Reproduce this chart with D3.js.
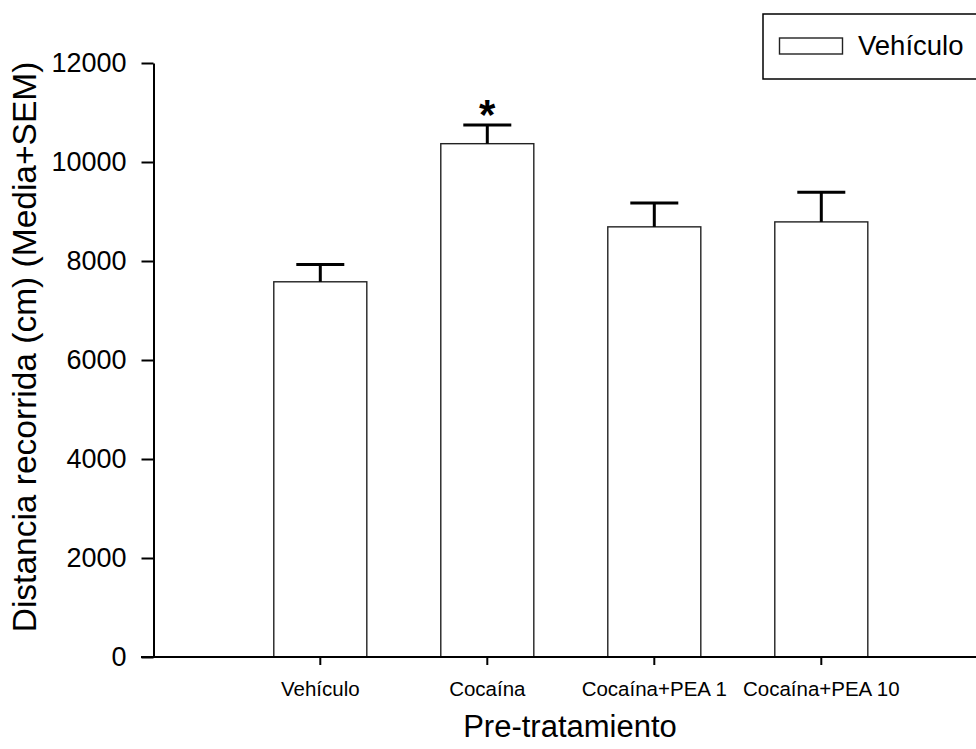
<!DOCTYPE html>
<html>
<head>
<meta charset="utf-8">
<script src="https://cdn.jsdelivr.net/npm/d3@7"></script>
<style>
  html, body { margin: 0; padding: 0; background: #fff; }
  svg { display: block; font-family: "Liberation Sans", Arial, sans-serif; }
</style>
</head>
<body>
<svg id="chart" width="976" height="749"></svg>
<script>
// Distance travelled per pre-treatment group (mean + SEM)
const categories = ["Vehículo", "Cocaína", "Cocaína+PEA 1", "Cocaína+PEA 10"];
const means = [7580, 10370, 8690, 8790];
const sems = [350, 380, 480, 600];
const significant = [false, true, false, false];
const yTicks = [0, 2000, 4000, 6000, 8000, 10000, 12000];
const seriesName = "Vehículo";

const svg = d3.select("#chart");
const FONT = "Liberation Sans, Arial, sans-serif";

const y = d3.scaleLinear().domain([0, 12000]).range([657, 63]);
const x = d3.scaleBand()
  .domain(categories)
  .range([236.8, 904.8])
  .paddingInner(0.443)
  .paddingOuter(0.2215);

const axisX = 153.5;

// Bars
svg.append("g").selectAll("rect")
  .data(categories)
  .join("rect")
  .attr("x", d => x(d))
  .attr("y", (d, i) => y(means[i]))
  .attr("width", x.bandwidth())
  .attr("height", (d, i) => y(0) - y(means[i]))
  .attr("fill", "#fff")
  .attr("stroke", "#222")
  .attr("stroke-width", 1.4);

// Error bars (upper only) and significance marks
const eb = svg.append("g").attr("stroke", "#000").attr("stroke-width", 3);
categories.forEach((c, i) => {
  const cx = x(c) + x.bandwidth() / 2;
  const top = y(means[i] + sems[i]);
  eb.append("line")
    .attr("x1", cx).attr("x2", cx)
    .attr("y1", y(means[i])).attr("y2", top);
  eb.append("line")
    .attr("x1", cx - 24).attr("x2", cx + 24)
    .attr("y1", top).attr("y2", top);
  if (significant[i]) {
    svg.append("text")
      .attr("x", cx).attr("y", top + 4)
      .attr("text-anchor", "middle")
      .attr("font-size", 42).attr("font-weight", "bold")
      .text("*");
  }
});

// Y axis
const yAxis = d3.axisLeft(y).tickValues(yTicks).tickFormat(d3.format("d"))
  .tickSize(12).tickPadding(15).tickSizeOuter(0);
const gy = svg.append("g").attr("transform", `translate(${axisX},0)`).call(yAxis);
gy.select(".domain").attr("stroke", "#000").attr("stroke-width", 2);
gy.selectAll(".tick line").attr("stroke", "#000").attr("stroke-width", 2);
gy.selectAll(".tick text").attr("font-size", 27).attr("fill", "#000").attr("font-family", FONT);

// X axis
const xAxis = d3.axisBottom(x).tickSize(8).tickPadding(16).tickSizeOuter(0);
const gx = svg.append("g").attr("transform", `translate(0,${y(0)})`).call(xAxis);
gx.select(".domain").remove();
gx.append("line").attr("x1", 141).attr("x2", 990).attr("y1", 0).attr("y2", 0)
  .attr("stroke", "#000").attr("stroke-width", 2);
gx.selectAll(".tick line").attr("stroke", "#000").attr("stroke-width", 2);
gx.selectAll(".tick text").attr("font-size", 20.5).attr("fill", "#000").attr("font-family", FONT);

// Axis titles
svg.append("text")
  .attr("x", 570).attr("y", 737)
  .attr("text-anchor", "middle")
  .attr("font-size", 31)
  .text("Pre-tratamiento");

svg.append("text")
  .attr("transform", "translate(36,347) rotate(-90)")
  .attr("text-anchor", "middle")
  .attr("font-size", 33.5)
  .text("Distancia recorrida (cm) (Media+SEM)");

// Legend
const lg = svg.append("g");
lg.append("rect").attr("x", 763).attr("y", 14).attr("width", 230).attr("height", 65)
  .attr("fill", "#fff").attr("stroke", "#000").attr("stroke-width", 1.5);
lg.append("rect").attr("x", 779.5).attr("y", 38).attr("width", 63).attr("height", 16)
  .attr("fill", "#fff").attr("stroke", "#222").attr("stroke-width", 1.4);
lg.append("text").attr("x", 858).attr("y", 55).attr("font-size", 27.5).text(seriesName);
</script>
</body>
</html>
